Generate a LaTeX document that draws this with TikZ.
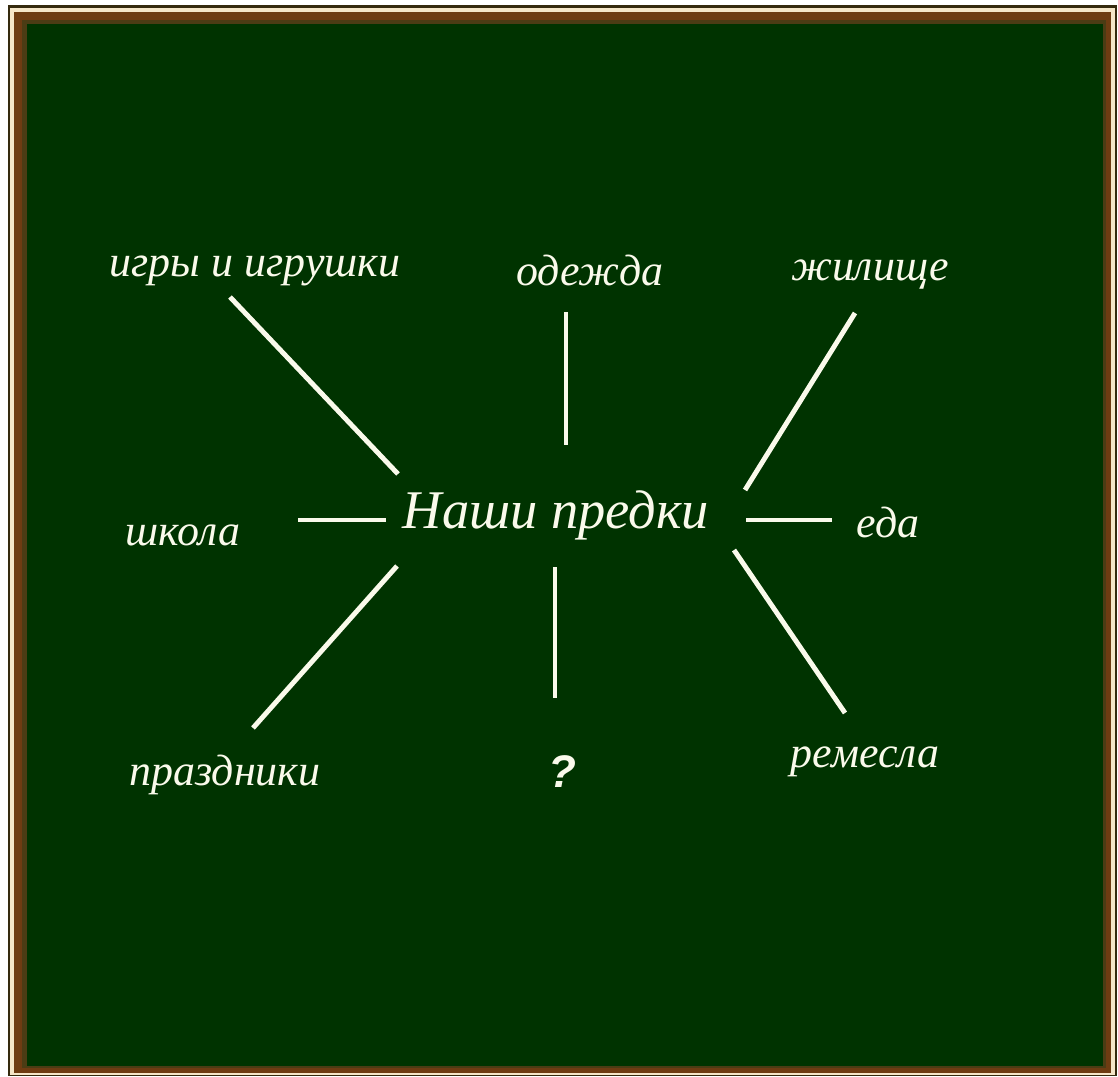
\documentclass[tikz,border=0pt]{standalone}
\usepackage{fontspec}
\setmainfont{Liberation Serif}
\newfontfamily\qfont{Liberation Sans}
\usepackage{xcolor}
\usetikzlibrary{positioning}
\definecolor{boardgreen}{RGB}{0,51,0}
\definecolor{framebrown}{RGB}{110,60,18}
\definecolor{frameolive}{RGB}{75,60,20}
\definecolor{framecream}{RGB}{245,230,200}
\definecolor{chalk}{RGB}{250,250,235}

\begin{document}
\begin{tikzpicture}[x=0.02cm, y=-0.02cm,
    word/.style={text=chalk, font=\itshape\fontsize{25}{28}\selectfont, inner sep=0pt},
    stroke/.style={draw=chalk, line width=2.8pt}]
    % 1. Рамка и доска
    \useasboundingbox (0,0) rectangle (1118,1077);
    \fill[white] (0,0) rectangle (1118,1077);
    \fill[frameolive!70!black] (8,5) rectangle (1117,1076);
    \fill[framecream] (10,8) rectangle (1115,1075);
    \fill[framebrown] (14,12) rectangle (1111,1073);
    \fill[frameolive] (22,20) rectangle (1106,1068);
    \fill[boardgreen] (27,24) rectangle (1103,1066);

    % 2. Надписи
    \node[word, font=\itshape\fontsize{31}{34}\selectfont] (center) at (556,515) {Наши предки};
    \node[word] (games) at (255,271) {игры и игрушки};
    \node[word] (clothes) at (590,270) {одежда};
    \node[word] (house) at (870,275) {жилище};
    \node[word] (school) at (183,535) {школа};
    \node[word] (food) at (888,522) {еда};
    \node[word] (holidays) at (225,775) {праздники};
    \node[text=chalk, font=\qfont\bfseries\itshape\fontsize{26}{28}\selectfont] (quest) at (562,772) {?};
    \node[word] (crafts) at (865,762) {ремесла};

    % 3. Концы линий
    \coordinate (g1) at (230,297);  \coordinate (g2) at (398,474);
    \coordinate (c1) at (566,312);  \coordinate (c2) at (566,445);
    \coordinate (h1) at (855,313);  \coordinate (h2) at (745,490);
    \coordinate (s1) at (298,520);  \coordinate (s2) at (386,520);
    \coordinate (f1) at (746,520);  \coordinate (f2) at (832,520);
    \coordinate (p1) at (397,566);  \coordinate (p2) at (253,728);
    \coordinate (q1) at (555,567);  \coordinate (q2) at (555,698);
    \coordinate (r1) at (734,550);  \coordinate (r2) at (845,713);

    % 4. Линии
    \draw[stroke] (g1) -- (g2);
    \draw[stroke] (c1) -- (c2);
    \draw[stroke] (h1) -- (h2);
    \draw[stroke] (s1) -- (s2);
    \draw[stroke] (f1) -- (f2);
    \draw[stroke] (p1) -- (p2);
    \draw[stroke] (q1) -- (q2);
    \draw[stroke] (r1) -- (r2);
\end{tikzpicture}
\end{document}
